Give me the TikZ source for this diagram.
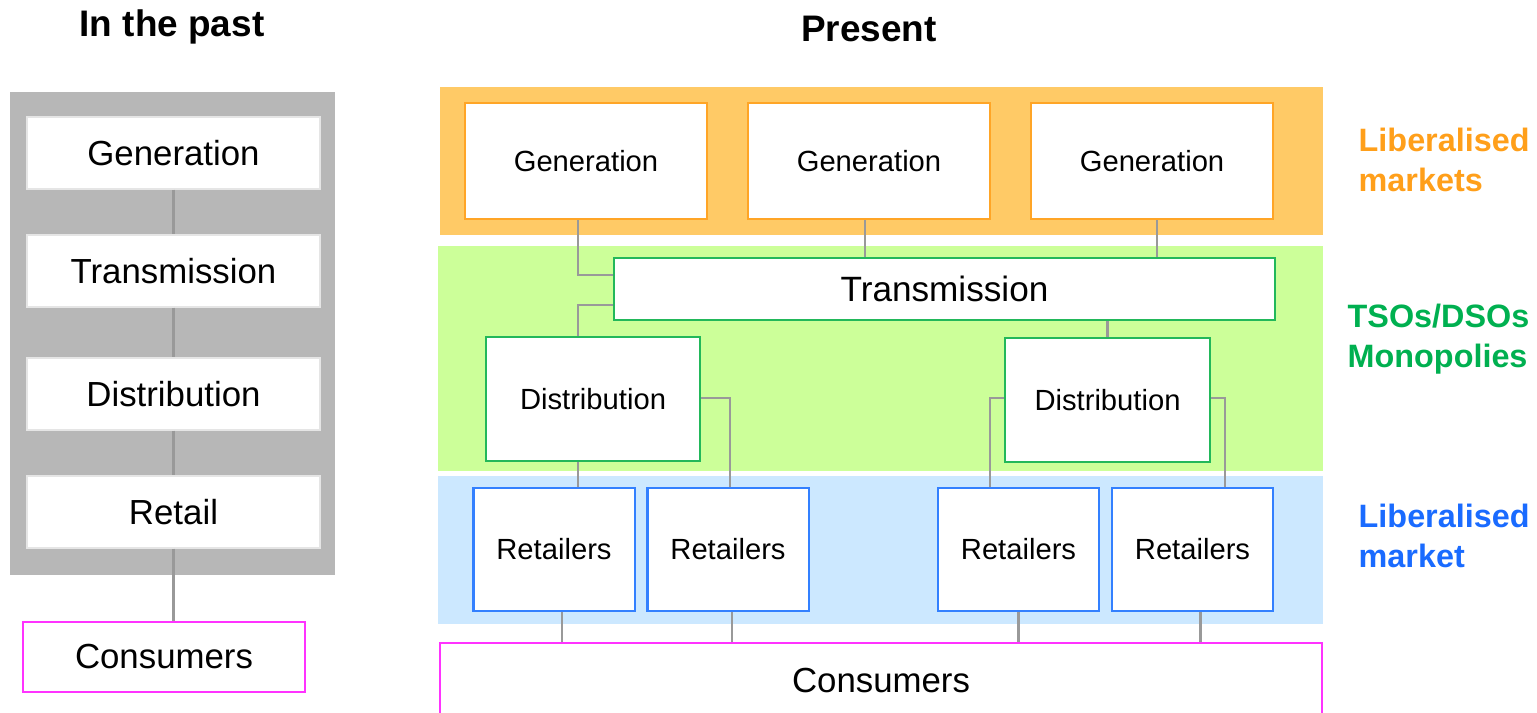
\documentclass[tikz,border=0pt]{standalone}
\usepackage{fontspec}
\setmainfont{Liberation Sans}

\definecolor{panelgrey}{HTML}{B7B7B7}
\definecolor{wiregrey}{HTML}{999999}
\definecolor{genfill}{HTML}{FFCA66}
\definecolor{genline}{HTML}{FFA526}
\definecolor{gridfill}{HTML}{CCFF99}
\definecolor{gridline}{HTML}{22B85A}
\definecolor{retfill}{HTML}{CCE8FF}
\definecolor{retline}{HTML}{3380FF}
\definecolor{consline}{HTML}{FF33FF}
\definecolor{txtorange}{HTML}{FF9F1A}
\definecolor{txtgreen}{HTML}{00B050}
\definecolor{txtblue}{HTML}{1A6BFF}

\begin{document}
\begin{tikzpicture}[
  x=0.01cm, y=-0.01cm,
  every node/.style={font=\fontsize{8.3}{10}\selectfont, align=center, inner sep=0pt},
  title/.style={font=\fontsize{10.5}{12}\selectfont\bfseries},
  side/.style={anchor=west, align=left, font=\fontsize{9.2}{11.4}\selectfont\bfseries},
  oldbox/.style={rectangle, draw=gray!20, fill=white, minimum width=2.93cm, minimum height=0.72cm, font=\fontsize{9.9}{12}\selectfont},
  genbox/.style={rectangle, draw=genline, line width=0.6pt, fill=white, minimum width=2.42cm, minimum height=1.16cm},
  gridbox/.style={rectangle, draw=gridline, line width=0.6pt, fill=white},
  retbox/.style={rectangle, draw=retline, line width=0.6pt, fill=white, minimum width=1.61cm, minimum height=1.23cm},
  consbox/.style={rectangle, draw=consline, line width=0.6pt, fill=white},
  wire/.style={draw=wiregrey, line width=0.8pt}
  ]
\useasboundingbox (0,0) rectangle (1537,713);

% Titles
\node[title] (past) at (172,27) {In the past};
\node[title] (present) at (869,29) {Present};

% Backgrounds
\fill[panelgrey] (10,92) rectangle (335,575);
\fill[genfill] (440,87) rectangle (1323,235);
\fill[gridfill] (438,246) rectangle (1323,471);
\fill[retfill] (438,476) rectangle (1323,624);

% Old chain
\node[oldbox] (lgen) at (173.5,153) {Generation};
\node[oldbox] (ltrans) at (173.5,271) {Transmission};
\node[oldbox] (ldist) at (173.5,394) {Distribution};
\node[oldbox] (lret) at (173.5,512) {Retail};
\node[consbox, minimum width=2.82cm, minimum height=0.70cm, font=\fontsize{9.9}{12}\selectfont] (lcons) at (164,657) {Consumers};

% Present chain
\node[genbox] (gen1) at (586,161) {Generation};
\node[genbox] (gen2) at (869,161) {Generation};
\node[genbox] (gen3) at (1152,161) {Generation};
\node[gridbox, minimum width=6.61cm, minimum height=0.62cm, font=\fontsize{10}{12}\selectfont] (trans) at (944.5,289) {Transmission};
\node[gridbox, minimum width=2.14cm, minimum height=1.24cm] (dist1) at (593,399) {Distribution};
\node[gridbox, minimum width=2.05cm, minimum height=1.24cm] (dist2) at (1107.5,400) {Distribution};
\node[retbox] (ret1) at (554,549.5) {Retailers};
\node[retbox] (ret2) at (728,549.5) {Retailers};
\node[retbox] (ret3) at (1018.5,549.5) {Retailers};
\node[retbox] (ret4) at (1192.5,549.5) {Retailers};
\node[consbox, minimum width=8.82cm, minimum height=0.76cm, font=\fontsize{9.9}{12}\selectfont] (cons) at (881,681) {Consumers};

% Side labels
\node[side, text=txtorange] (lab1) at (1358,160) {Liberalised\\markets};
\node[side, text=txtgreen] (lab2) at (1347,339) {TSOs/DSOs\\Monopolies};
\node[side, text=txtblue] (lab3) at (1358,536) {Liberalised\\market};

% Bend points
\coordinate (g1) at (578,275);
\coordinate (t1) at (578,305);
\coordinate (d1) at (730,398);
\coordinate (d2) at (990,398);
\coordinate (d3) at (1225,398);

% Wires, old chain
\draw[wire] (lgen) -- (ltrans);
\draw[wire] (ltrans) -- (ldist);
\draw[wire] (ldist) -- (lret);
\draw[wire] (lret.south) -- (lret.south |- lcons.north);

% Wires, present chain
\draw[wire] (gen1.south -| g1) -- (g1) -- (g1 -| trans.west);
\draw[wire] ([xshift=-0.04cm]gen2.south) -- ([xshift=-0.04cm]gen2.south |- trans.north);
\draw[wire] ([xshift=0.05cm]gen3.south) -- ([xshift=0.05cm]gen3.south |- trans.north);
\draw[wire] (t1 -| trans.west) -- (t1) -- (t1 |- dist1.north);
\draw[wire] (dist2.north |- trans.south) -- (dist2.north);
\draw[wire] (dist1.south -| t1) -- (ret1.north -| t1);
\draw[wire] (d1 -| dist1.east) -- (d1) -- (d1 |- ret2.north);
\draw[wire] (d2 -| dist2.west) -- (d2) -- (d2 |- ret3.north);
\draw[wire] (d3 -| dist2.east) -- (d3) -- (d3 |- ret4.north);
\foreach \r/\s in {ret1/0.08cm, ret2/0.04cm, ret3/0cm, ret4/0.08cm}
  \draw[wire] ([xshift=\s]\r.south) -- ([xshift=\s]\r.south |- cons.north);

\end{tikzpicture}
\end{document}
